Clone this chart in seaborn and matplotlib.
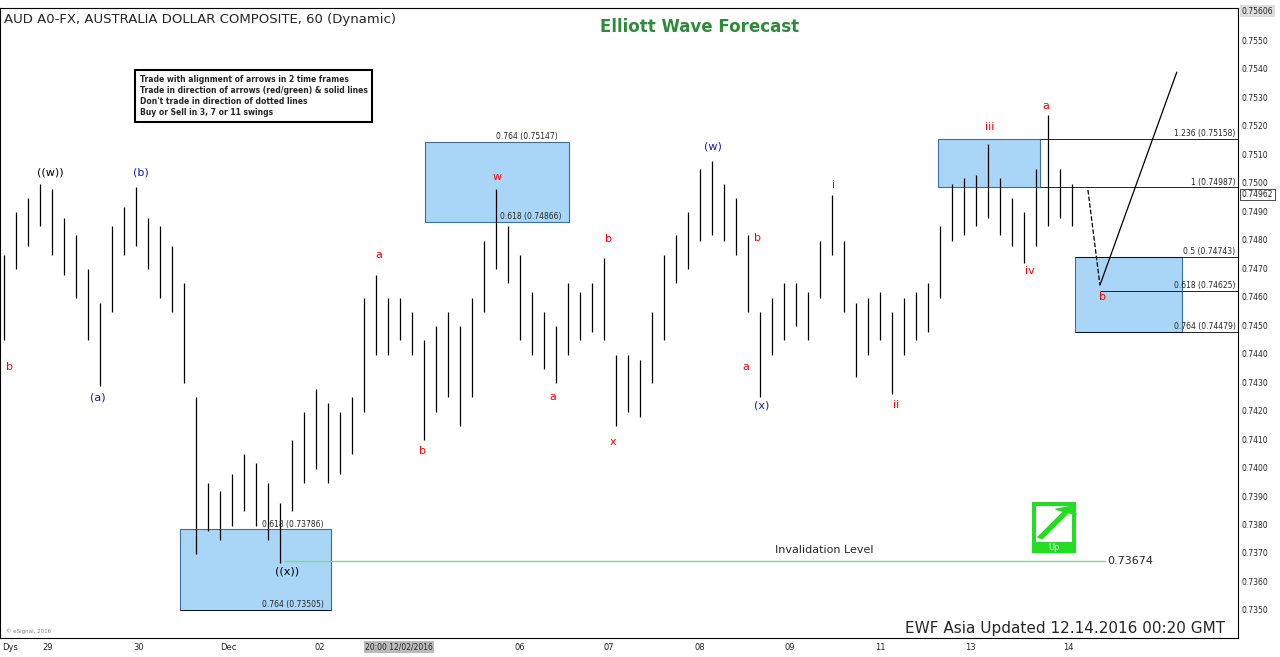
import matplotlib
matplotlib.use("Agg")
import matplotlib.pyplot as plt
import matplotlib.patches as mpatches
import seaborn as sns
import pandas as pd
import numpy as np

lows = [0.7445,0.7470,0.7478,0.7485,0.7475,0.7468,0.7460,0.7445,0.7429,0.7455,
        0.7475,0.7478,0.7470,0.7460,0.7455,0.7430,0.7370,0.7378,0.7375,0.7380,
        0.7385,0.7380,0.7375,0.7367,0.7385,0.7395,0.7400,0.7395,0.7398,0.7405,
        0.7420,0.7440,0.7440,0.7445,0.7440,0.7410,0.7420,0.7425,0.7415,0.7425,
        0.7455,0.7470,0.7465,0.7445,0.7440,0.7435,0.7430,0.7440,0.7445,0.7448,
        0.7445,0.7415,0.7420,0.7418,0.7430,0.7445,0.7465,0.7470,0.7480,0.7482,
        0.7480,0.7475,0.7455,0.7425,0.7440,0.7445,0.7450,0.7445,0.7460,0.7475,
        0.7455,0.7432,0.7440,0.7445,0.7426,0.7440,0.7445,0.7448,0.7460,0.7480,
        0.7482,0.7485,0.7488,0.7482,0.7478,0.7472,0.7478,0.7485,0.7488,0.7485]
highs = [0.7475,0.7490,0.7495,0.7500,0.7498,0.7488,0.7482,0.7470,0.7458,0.7485,
         0.7492,0.7499,0.7488,0.7485,0.7478,0.7465,0.7425,0.7395,0.7392,0.7398,
         0.7405,0.7402,0.7395,0.7388,0.7410,0.7420,0.7428,0.7423,0.7420,0.7425,
         0.7460,0.7468,0.7460,0.7460,0.7455,0.7445,0.7450,0.7455,0.7450,0.7460,
         0.7480,0.7498,0.7485,0.7475,0.7462,0.7455,0.7450,0.7465,0.7462,0.7465,
         0.7474,0.7440,0.7440,0.7438,0.7455,0.7475,0.7482,0.7490,0.7505,0.7508,
         0.7500,0.7495,0.7482,0.7455,0.7460,0.7465,0.7465,0.7462,0.7480,0.7496,
         0.7480,0.7458,0.7460,0.7462,0.7455,0.7460,0.7462,0.7465,0.7485,0.7500,
         0.7502,0.7503,0.7514,0.7502,0.7495,0.7490,0.7505,0.7524,0.7505,0.7500]

x_tick_pos = [3.6, 11.2, 18.7, 26.3, 43, 50.4, 58, 65.5, 73, 80.5, 88.7]
x_tick_labels = ["29", "30", "Dec", "02", "06", "07", "08", "09", "11", "13", "14"]

wave_labels = [("b",0.45,0.74356,"red"),("((w))",3.83,0.75041,"black"),("(a)",7.83,0.74248,"#1a1aa0"),
               ("(b)",11.4,0.75041,"#1a1aa0"),("((x))",23.6,0.7364,"black"),("a",31.2,0.74750,"red"),
               ("b",34.9,0.74062,"red"),("w",41.1,0.75023,"red"),("a",45.75,0.74251,"red"),
               ("b",50.4,0.74806,"red"),("x",50.75,0.74093,"red"),("(w)",59.1,0.75132,"#1a1aa0"),
               ("b",62.8,0.74809,"red"),("a",61.8,0.74356,"red"),("(x)",63.1,0.74220,"#1a1aa0"),
               ("i",69.1,0.74995,"red"),("ii",74.3,0.74223,"red"),("iii",82.1,0.75199,"red"),
               ("iv",85.5,0.74693,"red"),("a",86.75,0.75273,"red"),("b",91.5,0.74602,"red")]

boxes = [(14.7, 27.25, 0.73505, 0.73786), (35.1, 47.1, 0.74866, 0.75147),
         (77.8, 86.3, 0.74987, 0.75158), (89.2, 98.1, 0.74479, 0.74743)]
fib_levels = [(86.3, 0.75158, "1.236 (0.75158)"), (86.3, 0.74987, "1 (0.74987)"),
              (89.2, 0.74743, "0.5 (0.74743)"), (91.3, 0.74625, "0.618 (0.74625)"),
              (89.2, 0.74479, "0.764 (0.74479)")]
invalid_x = [23.4, 91.7]
invalid_level = 0.73674
proj_x = [90.3, 91.3, 97.7]
proj_y = [0.74978, 0.74644, 0.75392]
last_price = 0.74962

sns.set_theme(style="white")
fig = plt.figure(figsize=(12.8, 6.57), dpi=100)
fig.patch.set_facecolor("white")
ax = fig.add_axes([0.0, 19/657, 1238/1280, 630/657])
ax.set_facecolor("white")
xmin, xmax = -0.33, 102.8
ax.set_xlim(xmin, xmax)
ax.set_ylim(0.73405, 0.75617)

idx = np.arange(len(lows))
ax.vlines(idx, lows, highs, color="black", lw=0.9)

for (x0, x1, y0, y1) in boxes:
    ax.add_patch(mpatches.Rectangle((x0, y0), x1 - x0, y1 - y0, facecolor="#a9d5f7",
                                    edgecolor="#3a6ea5", lw=0.8, zorder=0))
for (x0, y, lab) in fib_levels:
    ax.hlines(y, x0, xmax, color="black", lw=0.6)
    ax.text(102.6, y + 0.00003, lab, fontsize=5.5, ha="right", va="bottom")
ax.hlines(0.73505, 14.7, 27.25, color="black", lw=0.6)
ax.text(21.5, 0.73508, "0.764 (0.73505)", fontsize=5.5, va="bottom")
ax.text(21.5, 0.73789, "0.618 (0.73786)", fontsize=5.5, va="bottom")
ax.text(41, 0.75150, "0.764 (0.75147)", fontsize=5.5, va="bottom")
ax.text(41.3, 0.74869, "0.618 (0.74866)", fontsize=5.5, va="bottom")

inv = pd.DataFrame({"x": invalid_x, "y": [invalid_level] * 2})
sns.lineplot(data=inv, x="x", y="y", ax=ax, color="#7ddc7d", lw=1)
ax.set_xlabel("")
ax.set_ylabel("")
ax.text(91.9, invalid_level, "0.73674", fontsize=8, va="center")
ax.text(68.3, invalid_level + 0.00022, "Invalidation Level", fontsize=8, ha="center", va="bottom")

ax.plot(proj_x[:2], proj_y[:2], color="black", lw=0.9, ls="--")
ax.plot(proj_x[1:], proj_y[1:], color="black", lw=0.9)

for t, x, y, c in wave_labels:
    ax.text(x, y, t, color=c, fontsize=8, ha="center", va="center")

ax.set_xticks([])
ax.set_yticks([])
for s in ax.spines.values():
    s.set_color("black"); s.set_linewidth(0.8)

for p in np.arange(0.7350, 0.75551, 0.0010):
    ax.text(1.003, (p - 0.73405) / (0.75617 - 0.73405), f"{p:.4f}", transform=ax.transAxes,
            fontsize=5.5, va="center", ha="left", clip_on=False)
ax.text(1.003, (last_price - 0.73405) / (0.75617 - 0.73405), f"{last_price:.5f}",
        transform=ax.transAxes, fontsize=5.5, va="center", ha="left",
        bbox=dict(facecolor="white", edgecolor="black", lw=0.5, pad=1))
ax.text(1.003, (0.75606 - 0.73405) / (0.75617 - 0.73405), "0.75606", transform=ax.transAxes,
        fontsize=5.5, va="center", ha="left", bbox=dict(facecolor="#dddddd", edgecolor="none", pad=1))

for p, l in zip(x_tick_pos, x_tick_labels):
    fig.text((p - xmin) / (xmax - xmin) * 1238 / 1280, 10 / 657, l, fontsize=6, ha="center", va="center")
fig.text(2 / 1280, 10 / 657, "Dys", fontsize=6, va="center")
fig.text(365 / 1280, 10 / 657, "20:00 12/02/2016", fontsize=5.5, va="center",
         bbox=dict(facecolor="#bbbbbb", edgecolor="none", pad=1))

fig.text(4 / 1280, 1 - 19 / 657, "AUD A0-FX, AUSTRALIA DOLLAR COMPOSITE, 60 (Dynamic)", fontsize=9.5, va="center")
fig.text(700 / 1280, 1 - 27 / 657, "Elliott Wave Forecast", fontsize=12, fontweight="bold",
         color="#2e8b3a", ha="center", va="center")
fig.text(1225 / 1280, 1 - 628 / 657, "EWF Asia Updated 12.14.2016 00:20 GMT", fontsize=11, ha="right", va="center")
fig.text(6 / 1280, 1 - 633 / 657, "© eSignal, 2016", fontsize=4, color="gray")

fig.text(140 / 1280, 1 - 96 / 657,
         "Trade with alignment of arrows in 2 time frames\nTrade in direction of arrows (red/green) & solid lines\n"
         "Don't trade in direction of dotted lines\nBuy or Sell in 3, 7 or 11 swings",
         fontsize=5.5, fontweight="bold", va="center", linespacing=1.3,
         bbox=dict(facecolor="white", edgecolor="black", lw=1.5, boxstyle="square,pad=0.6"))

fig.patches.append(mpatches.Rectangle((1032 / 1280, 1 - 553 / 657), 44 / 1280, 51 / 657,
                                      transform=fig.transFigure, facecolor="#22dd22", edgecolor="none"))
fig.patches.append(mpatches.Rectangle((1036 / 1280, 1 - 542 / 657), 36 / 1280, 36 / 657,
                                      transform=fig.transFigure, facecolor="white", edgecolor="none"))
fig.patches.append(mpatches.FancyArrow(1040 / 1280, 1 - 538 / 657, 26 / 1280, 26 / 657,
                                       width=0.004, head_width=0.018, head_length=0.01,
                                       transform=fig.transFigure, color="#22dd22"))
fig.text(1054 / 1280, 1 - 548 / 657, "Up", fontsize=6, color="white", ha="center", va="center")

fig.savefig("out.png", dpi=100)
